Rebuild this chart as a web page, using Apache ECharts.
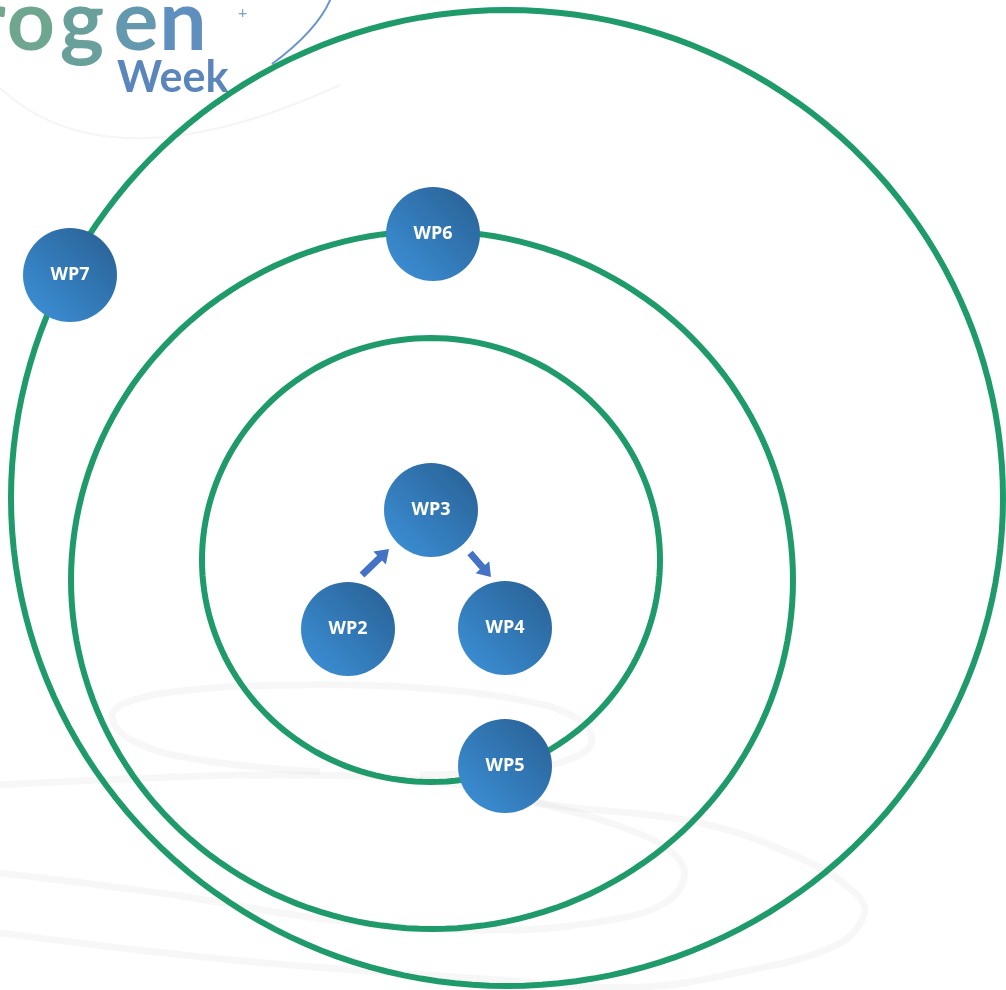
<!DOCTYPE html>
<html>
<head>
<meta charset="utf-8">
<script src="https://cdn.jsdelivr.net/npm/echarts@6/dist/echarts.min.js"></script>
<style>
  html, body { margin: 0; padding: 0; background: #fff; }
  #chart { width: 1006px; height: 990px; }
</style>
</head>
<body>
<div id="chart"></div>
<script>
// work packages, placed on the diagram (pixel-like coordinates, y going down)
const nodeNames = ['WP7', 'WP6', 'WP3', 'WP2', 'WP4', 'WP5'];
const nodeX = [70, 433, 431, 348, 505, 505];
const nodeY = [275, 234, 510, 629, 628, 766];

// green orbits: centre x, centre y, radius x, radius y
const ringCx = [507, 432, 431];
const ringCy = [498, 580, 560];
const ringRx = [496, 361, 229];
const ringRy = [488, 349, 222];

// faint grey swirls behind everything, as traced paths
const swirlA = [[320, 772], [200, 760], [135, 742], [112, 718], [125, 703], [190, 690], [300, 685],
  [420, 688], [520, 700], [575, 717], [592, 740], [575, 757], [520, 770], [420, 775]];
const swirlB = [[0, 785], [150, 778], [300, 775], [440, 782], [550, 806], [630, 830], [675, 855],
  [684, 878], [665, 903], [610, 920], [500, 930], [333, 920], [167, 894], [0, 873]];
const swirlC = [[0, 933], [233, 960], [500, 980], [640, 987], [740, 972], [835, 946], [864, 915],
  [855, 893], [800, 858], [700, 823], [560, 806], [470, 792]];

// logo letters (cropped "...rogen" + "Week")
const logoLetters = ['r', 'o', 'g', 'e', 'n'];
const logoColors = ['#70a88c', '#6ea68f', '#69a09c', '#6498af', '#5f8fbf'];
const logoCenters = [-10, 31, 82, 136, 183];

// arrows between nodes: [tailX, tailY] -> [tipX, tipY]
const arrowFrom = [[362, 575], [470, 553]];
const arrowTo = [[389, 549], [491, 577]];

const chart = echarts.init(document.getElementById('chart'));

function ellipsePoints(api, cx, cy, rx, ry) {
  const pts = [];
  for (let i = 0; i <= 180; i++) {
    const t = (i / 180) * Math.PI * 2;
    pts.push(api.coord([cx + rx * Math.cos(t), cy + ry * Math.sin(t)]));
  }
  return pts;
}

const nodeColor = new echarts.graphic.LinearGradient(0, 1, 1, 0, [
  { offset: 0, color: '#3d92da' },
  { offset: 1, color: '#285f92' }
]);

const swirls = [swirlA, swirlB, swirlC];

const logoGraphic = logoLetters.map((ch, i) => ({
  type: 'text', x: logoCenters[i], y: -19, z: 1,
  style: { text: ch, font: 'bold 84px Lato', fill: logoColors[i], textAlign: 'center' }
}));

const option = {
  animation: false,
  grid: { left: 0, right: 0, top: 0, bottom: 0 },
  xAxis: { type: 'value', min: 0, max: 1006, show: false },
  yAxis: { type: 'value', min: 0, max: 990, inverse: true, show: false },
  graphic: logoGraphic.concat([
    {
      type: 'text', left: 117, top: 57, z: 1,
      style: { text: 'Week', font: 'bold 43px Lato', fill: '#5b86bc' }
    },
    {
      type: 'text', left: 238, top: 5, z: 1,
      style: { text: '+', font: '16px Lato', fill: '#7d9fc0' }
    },
    {
      type: 'bezierCurve', z: 1,
      shape: { x1: 331, y1: -2, cpx1: 318, cpy1: 30, x2: 272, y2: 64 },
      style: { stroke: '#6b96cc', lineWidth: 2, fill: null }
    },
    {
      type: 'bezierCurve', z: 0,
      shape: { x1: 0, y1: 88, cpx1: 110, cpy1: 190, x2: 340, y2: 85 },
      style: { stroke: '#f5f5f5', lineWidth: 2, fill: null }
    }
  ]),
  series: [
    {
      type: 'custom',
      name: 'swirls',
      coordinateSystem: 'cartesian2d',
      silent: true,
      z: 0,
      data: swirls.map((s, i) => [i]),
      renderItem: function (params, api) {
        const path = swirls[api.value(0)];
        return {
          type: 'polyline',
          shape: { points: path.map(p => api.coord(p)), smooth: 0.4 },
          style: {
            stroke: 'rgba(0,0,0,0.03)', lineWidth: 7, fill: null,
            shadowBlur: 12, shadowColor: 'rgba(0,0,0,0.16)'
          }
        };
      }
    },
    {
      type: 'custom',
      name: 'rings',
      coordinateSystem: 'cartesian2d',
      silent: true,
      z: 2,
      data: ringCx.map((v, i) => [v, ringCy[i], ringRx[i], ringRy[i]]),
      renderItem: function (params, api) {
        return {
          type: 'polyline',
          shape: { points: ellipsePoints(api, api.value(0), api.value(1), api.value(2), api.value(3)) },
          style: { stroke: '#1f9a6b', lineWidth: 6, fill: null }
        };
      }
    },
    {
      type: 'custom',
      name: 'arrows',
      coordinateSystem: 'cartesian2d',
      silent: true,
      z: 3,
      data: arrowFrom.map((a, i) => [a[0], a[1], arrowTo[i][0], arrowTo[i][1]]),
      renderItem: function (params, api) {
        const p0 = api.coord([api.value(0), api.value(1)]);
        const p1 = api.coord([api.value(2), api.value(3)]);
        const dx = p1[0] - p0[0], dy = p1[1] - p0[1];
        const len = Math.sqrt(dx * dx + dy * dy);
        const ux = dx / len, uy = dy / len, nx = -uy, ny = ux;
        const head = 13, sw = 3.5, hw = 9;
        const bx = p1[0] - ux * head, by = p1[1] - uy * head;
        return {
          type: 'polygon',
          shape: {
            points: [
              [p0[0] + nx * sw, p0[1] + ny * sw],
              [bx + nx * sw, by + ny * sw],
              [bx + nx * hw, by + ny * hw],
              p1,
              [bx - nx * hw, by - ny * hw],
              [bx - nx * sw, by - ny * sw],
              [p0[0] - nx * sw, p0[1] - ny * sw]
            ]
          },
          style: { fill: '#4472c4' }
        };
      }
    },
    {
      type: 'scatter',
      name: 'work packages',
      z: 4,
      symbolSize: 94,
      data: nodeNames.map((n, i) => ({ name: n, value: [nodeX[i], nodeY[i]] })),
      itemStyle: { color: nodeColor, opacity: 1 },
      label: {
        show: true,
        position: 'inside',
        formatter: '{b}',
        color: '#ffffff',
        fontSize: 18,
        fontWeight: 'bold',
        fontFamily: 'Open Sans'
      }
    }
  ]
};

chart.setOption(option);
</script>
</body>
</html>
